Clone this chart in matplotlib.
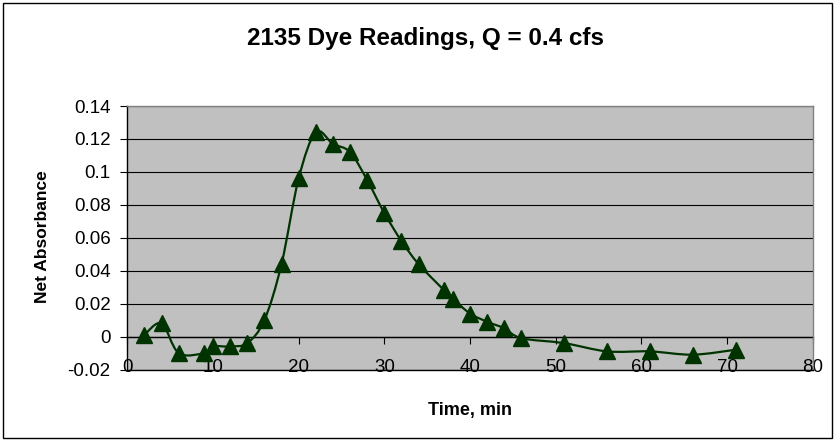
import numpy as np
import matplotlib
matplotlib.use('Agg')
import matplotlib.pyplot as plt
from matplotlib.path import Path
from matplotlib.patches import PathPatch, Rectangle
from matplotlib.ticker import FuncFormatter, MultipleLocator

plt.rcParams['font.family'] = ['Liberation Sans', 'DejaVu Sans']

# Dye readings: time (min) and net absorbance
time_min = [2, 4, 6, 9, 10, 12, 14, 16, 18, 20, 22, 24, 26, 28, 30, 32, 34,
            37, 38, 40, 42, 44, 46, 51, 56, 61, 66, 71]
absorbance = [0.001, 0.008, -0.010, -0.010, -0.006, -0.006, -0.004, 0.010,
              0.044, 0.096, 0.124, 0.117, 0.112, 0.095, 0.075, 0.058, 0.044,
              0.028, 0.023, 0.014, 0.009, 0.005, -0.001, -0.004, -0.009,
              -0.009, -0.011, -0.008]

title = '2135 Dye Readings, Q = 0.4 cfs'
x_label = 'Time, min'
y_label = 'Net Absorbance'

line_color = '#003300'


def smooth_path(xs, ys):
    # cubic bezier through every point, control points from neighbours (tension 1/6)
    pts = np.column_stack([xs, ys]).astype(float)
    n = len(pts)
    verts = [pts[0]]
    codes = [Path.MOVETO]
    for i in range(n - 1):
        p0 = pts[i - 1] if i > 0 else pts[i]
        p1 = pts[i]
        p2 = pts[i + 1]
        p3 = pts[i + 2] if i + 2 < n else pts[i + 1]
        c1 = p1 + (p2 - p0) / 6.0
        c2 = p2 - (p3 - p1) / 6.0
        verts += [c1, c2, p2]
        codes += [Path.CURVE4] * 3
    return Path(verts, codes)


W, H = 835, 442
fig = plt.figure(figsize=(W / 100, H / 100), dpi=100)
ax = fig.add_axes([127.3 / W, 1 - 369.5 / H, (812.7 - 127.3) / W, (369.5 - 106) / H])

# outer chart border
fig.patches.append(Rectangle((3 / W, 4 / H), 829 / W, 435 / H, transform=fig.transFigure,
                             fill=False, ec='black', lw=1.0))

ax.set_facecolor('#C0C0C0')
ax.set_xlim(0, 80)
ax.set_ylim(-0.02, 0.14)
ax.yaxis.set_major_locator(MultipleLocator(0.02))
ax.xaxis.set_major_locator(MultipleLocator(10))
ax.yaxis.set_major_formatter(FuncFormatter(lambda v, p: f'{round(v, 3):g}'))
ax.grid(axis='y', color='black', lw=0.8)
ax.set_axisbelow(True)
for s in ax.spines.values():
    s.set_color('#808080')
    s.set_linewidth(1.0)
ax.spines['left'].set_color('black')
ax.spines['bottom'].set_color('black')

ax.tick_params(axis='y', direction='out', length=5, width=0.8, labelsize=13.5, pad=7)
ax.tick_params(axis='x', length=0, labelsize=13.5, pad=-7.5)

# category axis crosses at y = 0 with its own tick marks
cross = ax.secondary_xaxis(0.02 / 0.16)
cross.xaxis.set_major_locator(MultipleLocator(10))
cross.tick_params(axis='x', direction='out', length=5, width=0.8, labelbottom=False)
cross.spines['bottom'].set_color('black')
cross.spines['bottom'].set_linewidth(1.0)

ax.add_patch(PathPatch(smooth_path(time_min, absorbance), fill=False,
                       ec=line_color, lw=1.6, zorder=3))
ax.plot(time_min, absorbance, ls='none', marker='^', ms=11, color=line_color, zorder=4,
        clip_on=False)

fig.text(0.51, 1 - 45 / H, title, ha='center', va='baseline', fontsize=17.5, fontweight='bold')
fig.text(43 / W, 1 - 237 / H, y_label, ha='center', va='center', rotation=90,
         fontsize=12.5, fontweight='bold')
fig.text(469.5 / W, 1 - 410 / H, x_label, ha='center', va='center', fontsize=13,
         fontweight='bold')

fig.savefig('out.png', dpi=100)
